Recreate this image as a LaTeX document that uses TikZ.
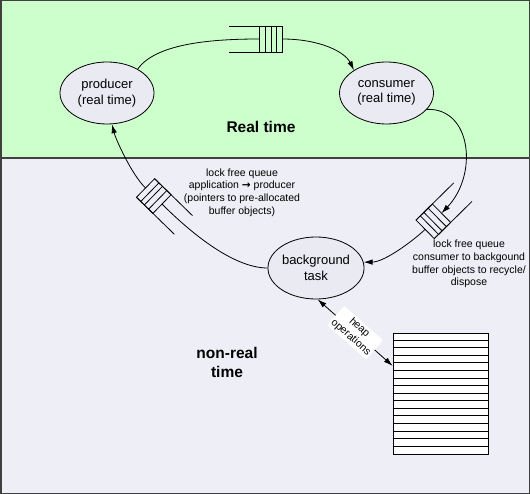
\documentclass[tikz,border=0pt]{standalone}
\usepackage{fontspec}
\setmainfont{Liberation Sans}
\newfontfamily\arrowfont{DejaVu Sans}
\usetikzlibrary{shapes.geometric,arrows.meta}
\definecolor{rtgreen}{RGB}{204,255,204}
\definecolor{nrtgray}{RGB}{238,238,246}
\definecolor{ellfill}{RGB}{234,234,243}
\definecolor{frame}{RGB}{64,64,64}
\tikzset{
  proc/.style={draw, ellipse, fill=ellfill, line width=0.8pt, minimum width=94pt, minimum height=62pt, inner sep=0pt, align=center, font=\fontsize{13}{15.7}\selectfont},
  lbl/.style={align=center, font=\fontsize{10.5}{12.8}\selectfont},
  zone/.style={align=center, font=\fontsize{15.5}{19}\selectfont\bfseries},
  conn/.style={line width=0.8pt},
  tip/.style={-{Latex[length=9pt,width=5.5pt]}},
  queue/.pic={
    \draw[line width=0.8pt] (-26.5,-13) -- (26.5,-13) (-26.5,13) -- (26.5,13);
    \draw[line width=0.8pt] (3.5,-13) rectangle (26.5,13);
    \foreach \qx in {9.5,15.5,20.5} \draw[line width=0.8pt] (\qx,-13) -- (\qx,13);
    \coordinate (-in) at (3.5,0);
    \coordinate (-out) at (26.5,0);
  }
}
\begin{document}
\begin{tikzpicture}[x=1pt,y=-1pt]
\useasboundingbox (0,0) rectangle (530,494);
\fill[rtgreen] (0,0) rectangle (530,158);
\fill[nrtgray] (0,158) rectangle (530,494);
\draw[frame, line width=1.5pt] (0.75,0.75) rectangle (529.25,493.25);
\draw[frame, line width=1.5pt] (0,158) -- (530,158);

\node[proc] (prod) at (107,93) {producer\\(real time)};
\node[proc] (cons) at (386.5,93) {consumer\\(real time)};
\node[proc, minimum width=96pt] (bg) at (316,268) {background\\task};

\node[zone] (rt) at (261,127) {Real time};
\node[zone] (nrt) at (227,362) {non-real\\time};

\pic (q1) at (255.5,39) {queue};
\pic[rotate=135.7] (q2) at (164.5,206.5) {queue};
\pic[rotate=-135.4] (q3) at (444,210.75) {queue};

% top
\draw[conn] (prod.38) .. controls (155,45) and (205,39) .. (q1-in);
\draw[conn,tip] (q1-out) .. controls (320,39) and (345,52) .. (cons.145);
% right
\draw[conn,tip] (cons.-22) .. controls (472,108) and (478,175) .. (q3-in);
\draw[conn,tip] (q3-out) .. controls (414,240) and (385,262) .. (bg.7);
% left
\draw[conn] (bg.west) .. controls (232,268) and (188,230) .. (q2-in);
\draw[conn,tip] (q2-out) .. controls (132,175) and (116,140) .. (prod.-81);

\node[lbl] (lab1) at (242,192.5) {lock free queue\\application {\arrowfont\bfseries →} producer\\(pointers to pre-allocated\\buffer objects)};
\node[lbl] (lab2) at (469,264) {lock free queue\\consumer to backgound\\buffer objects to recycle/\\dispose};

\node[draw, fill=white, line width=0.8pt, minimum width=95pt, minimum height=121pt, inner sep=0pt] (heap) at (440.5,393.5) {};
\foreach \k in {1,...,15}
  \draw[line width=0.8pt] ([yshift=-\k*121/16*1pt]heap.north west) -- ([yshift=-\k*121/16*1pt]heap.north east);

\draw[conn,{Latex[length=9pt,width=5.5pt]}-{Latex[length=9pt,width=5.5pt]}] (bg.-87) -- node[sloped, fill=white, rounded corners=2pt, inner sep=1.5pt, lbl] (heaplbl) {heap\\operations} (heap.150);
\end{tikzpicture}
\end{document}
